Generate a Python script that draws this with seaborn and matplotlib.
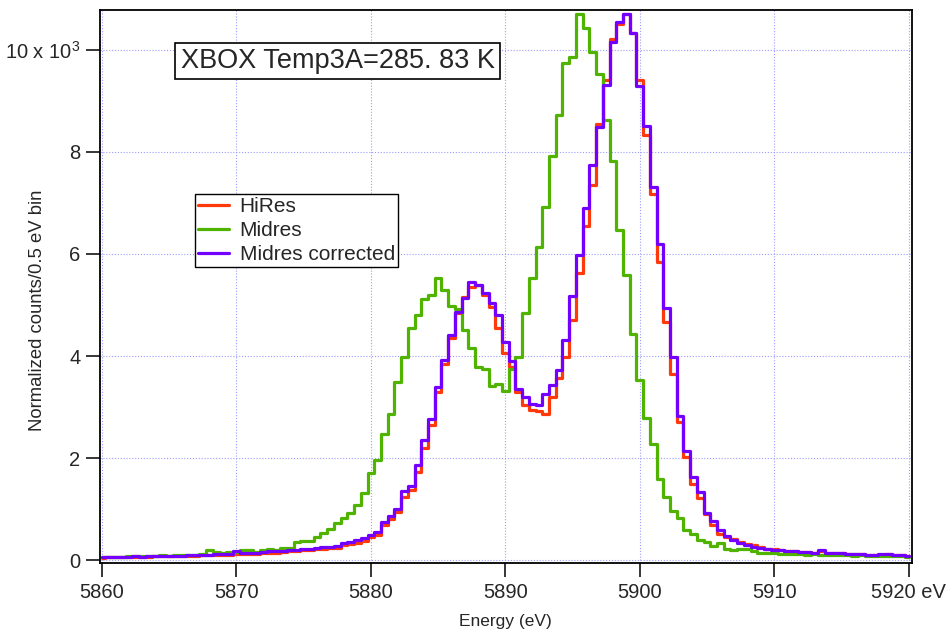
import numpy as np
import pandas as pd
import matplotlib
matplotlib.use("Agg")
import matplotlib.pyplot as plt
import seaborn as sns

# ---- data (0.5 eV bins, values in units of 10^3 counts) ----
energy = np.arange(5860.0, 5920.25, 0.5)

hires = [
    0.05, 0.06, 0.06, 0.06, 0.07, 0.07, 0.07, 0.07, 0.08, 0.08,
    0.08, 0.08, 0.09, 0.09, 0.09, 0.10, 0.10, 0.10, 0.11, 0.11,
    0.12, 0.12, 0.13, 0.13, 0.14, 0.15, 0.15, 0.16, 0.17, 0.18,
    0.19, 0.20, 0.21, 0.22, 0.23, 0.24, 0.29, 0.31, 0.34, 0.38,
    0.46, 0.50, 0.69, 0.80, 0.95, 1.24, 1.37, 1.73, 2.19, 2.65,
    3.30, 3.85, 4.35, 4.85, 5.15, 5.35, 5.40, 5.20, 4.96, 4.54,
    4.05, 3.78, 3.30, 3.04, 2.94, 2.93, 2.86, 3.19, 3.56, 3.99,
    4.71, 5.62, 6.55, 7.35, 8.55, 9.41, 10.21, 10.51, 10.71, 10.33,
    9.41, 8.33, 7.17, 5.85, 4.67, 3.65, 2.71, 2.02, 1.50, 1.21,
    0.90, 0.68, 0.52, 0.46, 0.41, 0.35, 0.31, 0.29, 0.25, 0.22,
    0.21, 0.19, 0.18, 0.17, 0.16, 0.16, 0.15, 0.17, 0.15, 0.14,
    0.14, 0.13, 0.12, 0.12, 0.11, 0.11, 0.11, 0.12, 0.11, 0.10,
    0.08,
]

midres = [
    0.06, 0.06, 0.07, 0.07, 0.08, 0.08, 0.09, 0.08, 0.09, 0.10,
    0.09, 0.10, 0.10, 0.11, 0.10, 0.12, 0.20, 0.16, 0.15, 0.16,
    0.16, 0.19, 0.19, 0.16, 0.19, 0.21, 0.20, 0.24, 0.24, 0.36,
    0.37, 0.37, 0.45, 0.53, 0.62, 0.72, 0.82, 0.93, 1.08, 1.32,
    1.71, 1.97, 2.48, 2.87, 3.50, 3.99, 4.54, 4.80, 5.11, 5.20,
    5.52, 5.30, 4.98, 4.92, 4.51, 4.15, 3.79, 3.74, 3.41, 3.45,
    3.32, 3.74, 3.99, 4.84, 5.52, 6.14, 6.93, 7.93, 8.73, 9.75,
    9.87, 10.71, 10.42, 9.95, 9.53, 8.63, 7.83, 6.47, 5.58, 4.43,
    3.53, 2.79, 2.28, 1.60, 1.24, 0.97, 0.83, 0.60, 0.52, 0.39,
    0.36, 0.28, 0.33, 0.22, 0.19, 0.22, 0.22, 0.17, 0.15, 0.14,
    0.15, 0.13, 0.13, 0.12, 0.13, 0.11, 0.12, 0.11, 0.10, 0.11,
    0.10, 0.10, 0.09, 0.10, 0.09, 0.09, 0.08, 0.09, 0.08, 0.08,
    0.07,
]

midres_corrected = [
    0.06, 0.07, 0.06, 0.07, 0.07, 0.08, 0.07, 0.08, 0.08, 0.08,
    0.09, 0.09, 0.09, 0.10, 0.10, 0.11, 0.11, 0.12, 0.12, 0.13,
    0.17, 0.14, 0.14, 0.15, 0.16, 0.17, 0.17, 0.18, 0.19, 0.20,
    0.21, 0.22, 0.23, 0.25, 0.26, 0.27, 0.33, 0.36, 0.39, 0.44,
    0.49, 0.55, 0.74, 0.86, 1.01, 1.35, 1.46, 1.87, 2.35, 2.76,
    3.40, 3.92, 4.41, 4.87, 5.13, 5.46, 5.39, 5.24, 5.04, 4.80,
    4.28, 3.90, 3.35, 3.20, 3.06, 3.04, 3.26, 3.43, 3.73, 4.31,
    5.17, 5.98, 6.91, 7.75, 8.49, 9.31, 10.16, 10.54, 10.71, 10.33,
    9.29, 8.51, 7.32, 6.19, 4.95, 3.99, 2.82, 2.14, 1.63, 1.33,
    0.93, 0.77, 0.59, 0.47, 0.40, 0.33, 0.29, 0.26, 0.23, 0.21,
    0.20, 0.19, 0.18, 0.17, 0.16, 0.16, 0.15, 0.20, 0.15, 0.14,
    0.14, 0.13, 0.12, 0.12, 0.11, 0.11, 0.12, 0.12, 0.11, 0.10,
    0.08,
]

series_names = ["HiRes", "Midres", "Midres corrected"]
series_colors = ["#ff3a0a", "#4fb300", "#7300ff"]
xtick_vals = [5860, 5870, 5880, 5890, 5900, 5910, 5920]
xtick_labels = ["5860", "5870", "5880", "5890", "5900", "5910", "5920 eV"]
ytick_vals = [0, 2, 4, 6, 8, 10]
ytick_labels = ["0", "2", "4", "6", "8", r"10 x 10$^{3}$"]

df = pd.concat([
    pd.DataFrame({"energy": energy, "counts": vals, "series": name})
    for name, vals in zip(series_names, [hires, midres, midres_corrected])
], ignore_index=True)

sns.set_theme(style="white")
plt.rcParams["font.family"] = ["Liberation Sans", "DejaVu Sans"]
plt.rcParams["mathtext.fontset"] = "custom"
plt.rcParams["mathtext.rm"] = "Liberation Sans"
plt.rcParams["mathtext.it"] = "Liberation Sans:italic"
plt.rcParams["mathtext.bf"] = "Liberation Sans:bold"

fig = plt.figure(figsize=(9.47, 6.30), dpi=100)
ax = fig.add_axes([0.1056, 0.106, 0.857, 0.878])

sns.lineplot(data=df, x="energy", y="counts", hue="series",
             hue_order=series_names, palette=series_colors,
             estimator=None, drawstyle="steps-mid", linewidth=2.3,
             ax=ax, legend=True)

ax.set_xlim(5859.85, 5920.22)
ax.set_ylim(-0.06, 10.78)
ax.set_xticks(xtick_vals)
ax.set_xticklabels(xtick_labels)
ax.set_yticks(ytick_vals)
ax.set_yticklabels(ytick_labels)

ax.grid(True, color="#9c9cff", linestyle=(0, (1, 1.6)), linewidth=0.8)
ax.set_axisbelow(True)
for sp in ax.spines.values():
    sp.set_visible(True)
    sp.set_color("black")
    sp.set_linewidth(1.3)

ax.tick_params(axis="both", which="major", direction="out", length=10,
               width=1.1, color="black", labelsize=14.5, pad=4,
               bottom=True, left=True, top=False, right=False)

ax.set_xlabel("Energy (eV)", fontsize=12.5, labelpad=9)
ax.set_ylabel("Normalized counts/0.5 eV bin", fontsize=13.3)
ax.yaxis.set_label_coords(-0.066, 0.4575)

handles, labels = ax.get_legend_handles_labels()
leg = ax.legend(handles, labels, loc="upper left",
                bbox_to_anchor=(0.117, 0.668), frameon=True, fancybox=False,
                edgecolor="black", framealpha=1, fontsize=15,
                handlelength=1.5, handletextpad=0.5, borderpad=0.15,
                labelspacing=0.25, borderaxespad=0)
leg.get_frame().set_linewidth(1.0)

ax.text(0.293, 0.908, "XBOX Temp3A=285. 83 K", transform=ax.transAxes,
        ha="center", va="center", fontsize=19.5,
        bbox=dict(boxstyle="square,pad=0.2", fc="white", ec="black", lw=1.2))

fig.savefig("out.png", dpi=100)
